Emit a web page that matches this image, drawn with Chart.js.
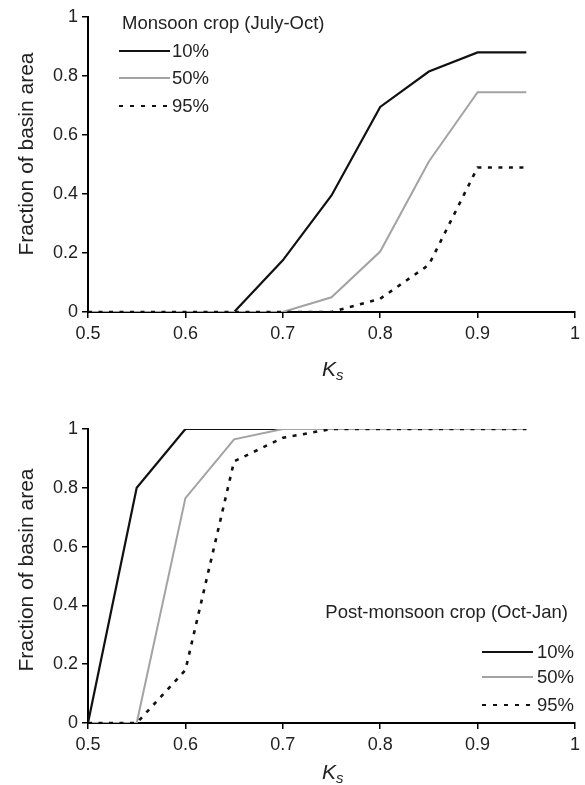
<!DOCTYPE html>
<html>
<head>
<meta charset="utf-8">
<script src="https://cdn.jsdelivr.net/npm/chart.js@4.4.1/dist/chart.umd.min.js"></script>
<style>
  body { margin: 0; background: #fff; font-family: "Liberation Sans", Arial, sans-serif; color: #222; }
  .wrap { position: absolute; left: 0; width: 585px; }
  .title { position: absolute; font-size: 18.5px; line-height: 18px; white-space: nowrap; }
  .row { position: absolute; height: 18px; width: 100px; font-size: 18.5px; line-height: 18px; white-space: nowrap; }
  .row .sw { position: absolute; left: 0; width: 51px; }
  .row .lab { position: absolute; top: 0; }
  .solid { top: 8px; height: 2px; background: #111; }
  .grey { top: 8px; height: 2px; background: #a3a3a3; }
  .dash { top: 8px; height: 2px; background: repeating-linear-gradient(to right, #111 0 4px, transparent 4px 11px); }
  .ks { position: absolute; font-size: 21px; line-height: 21px; font-style: italic; white-space: nowrap; }
  .ks sub { font-size: 15px; vertical-align: -4px; line-height: 0; }
  .ytitle { position: absolute; width: 260px; height: 22px; font-size: 21px; line-height: 22px; text-align: center; white-space: nowrap; transform: rotate(-90deg); }
</style>
</head>
<body>
<div class="wrap" style="top:0; height:390px;"><canvas id="topChart"></canvas></div>
<div class="wrap" style="top:390px; height:395px;"><canvas id="bottomChart"></canvas></div>

<!-- top panel texts -->
<div class="ytitle" style="left:-104px; top:143px;">Fraction of basin area</div>
<div class="title" style="left:122px; top:14px;">Monsoon crop (July-Oct)</div>
<div class="row" style="left:119px; top:42px;"><span class="sw solid"></span><span class="lab" style="left:53px;">10%</span></div>
<div class="row" style="left:119px; top:69px;"><span class="sw grey"></span><span class="lab" style="left:53px;">50%</span></div>
<div class="row" style="left:119px; top:97px;"><span class="sw dash"></span><span class="lab" style="left:53px;">95%</span></div>
<div class="ks" style="left:322px; top:358px;">K<sub>s</sub></div>

<!-- bottom panel texts -->
<div class="ytitle" style="left:-104px; top:559px;">Fraction of basin area</div>
<div class="title" style="right:17px; top:603px;">Post-monsoon crop (Oct-Jan)</div>
<div class="row" style="left:482px; top:643px;"><span class="sw solid"></span><span class="lab" style="left:55px;">10%</span></div>
<div class="row" style="left:482px; top:668px;"><span class="sw grey"></span><span class="lab" style="left:55px;">50%</span></div>
<div class="row" style="left:482px; top:696px;"><span class="sw dash"></span><span class="lab" style="left:55px;">95%</span></div>
<div class="ks" style="left:322px; top:761px;">K<sub>s</sub></div>

<script>
// K_s values where the curves are sampled
const ks = [0.5, 0.55, 0.6, 0.65, 0.7, 0.75, 0.8, 0.85, 0.9, 0.95];

// Monsoon crop (July-Oct)
const monsoon10 = [0, 0, 0, 0, 0.175, 0.395, 0.695, 0.815, 0.88, 0.88];
const monsoon50 = [0, 0, 0, 0, 0, 0.05, 0.205, 0.51, 0.745, 0.745];
const monsoon95 = [0, 0, 0, 0, 0, 0, 0.045, 0.16, 0.49, 0.49];

// Post-monsoon crop (Oct-Jan)
const post10 = [0, 0.8, 1, 1, 1, 1, 1, 1, 1, 1];
const post50 = [0, 0, 0.765, 0.965, 1, 1, 1, 1, 1, 1];
const post95 = [0, 0, 0.18, 0.89, 0.97, 1, 1, 1, 1, 1];

const xTickValues = [0.5, 0.6, 0.7, 0.8, 0.9, 1];
const xTickLabels = ['0.5', '0.6', '0.7', '0.8', '0.9', '1'];
const yTickValues = [0, 0.2, 0.4, 0.6, 0.8, 1];
const yTickLabels = ['0', '0.2', '0.4', '0.6', '0.8', '1'];

const tickFont = { family: '"Liberation Sans", Arial, sans-serif', size: 18 };

function toPoints(values) {
  return ks.map((k, i) => ({ x: k, y: values[i] }));
}

function buildChart(id, s10, s50, s95, areaTop, xAxisHeight) {
  const ctx = document.getElementById(id).getContext('2d');
  return new Chart(ctx, {
    type: 'line',
    data: {
      datasets: [
        { label: '10%', data: toPoints(s10), borderColor: '#111', borderWidth: 2.2, order: 3 },
        { label: '50%', data: toPoints(s50), borderColor: '#a3a3a3', borderWidth: 2, order: 2 },
        { label: '95%', data: toPoints(s95), borderColor: '#111', borderWidth: 2.6, borderDash: [4, 6.5], order: 1 }
      ]
    },
    options: {
      responsive: true,
      maintainAspectRatio: false,
      animation: false,
      devicePixelRatio: 1,
      layout: { padding: { left: 0, right: 5, top: areaTop, bottom: 0 } },
      elements: {
        point: { radius: 0, hoverRadius: 0 },
        line: { tension: 0, fill: false, borderCapStyle: 'butt' }
      },
      plugins: {
        legend: { display: false },
        tooltip: { enabled: false }
      },
      scales: {
        x: {
          type: 'linear',
          min: 0.5,
          max: 1,
          afterBuildTicks: scale => { scale.ticks = xTickValues.map(v => ({ value: v })); },
          afterFit: scale => { scale.height = xAxisHeight; },
          ticks: {
            font: tickFont,
            color: '#222',
            padding: 5,
            maxRotation: 0,
            autoSkip: false,
            callback: (v, i) => xTickLabels[i]
          },
          grid: { drawOnChartArea: false, drawTicks: true, tickLength: 6, color: '#000', lineWidth: 1.5 },
          border: { display: true, color: '#000', width: 2 }
        },
        y: {
          type: 'linear',
          min: 0,
          max: 1,
          afterBuildTicks: scale => { scale.ticks = yTickValues.map(v => ({ value: v })); },
          afterFit: scale => { scale.width = 88; },
          ticks: {
            font: tickFont,
            color: '#222',
            padding: 4,
            autoSkip: false,
            callback: (v, i) => yTickLabels[i]
          },
          grid: { drawOnChartArea: false, drawTicks: true, tickLength: 6, color: '#000', lineWidth: 1.5 },
          border: { display: true, color: '#000', width: 2 }
        }
      }
    }
  });
}

buildChart('topChart', monsoon10, monsoon50, monsoon95, 17, 78);
buildChart('bottomChart', post10, post50, post95, 39, 62);
</script>
</body>
</html>
